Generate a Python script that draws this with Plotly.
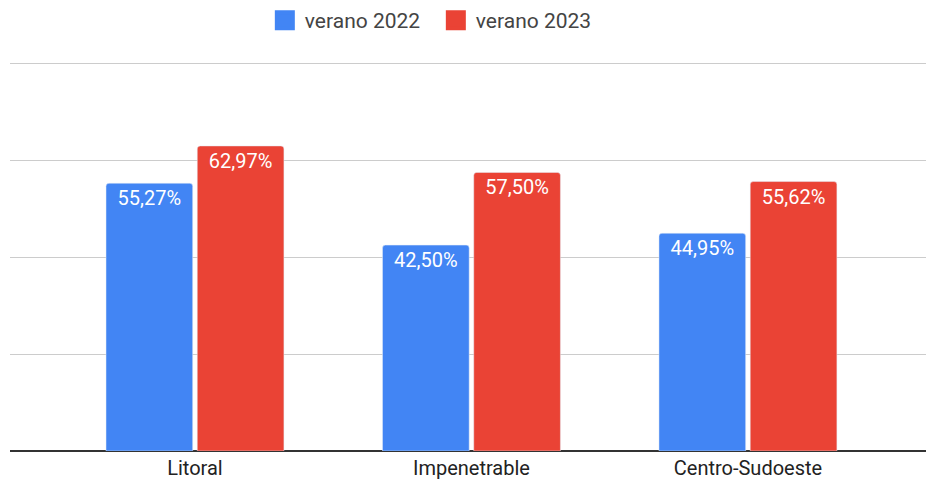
import plotly.graph_objects as go

categories = ["Litoral", "Impenetrable", "Centro-Sudoeste"]
series_names = ["verano 2022", "verano 2023"]
verano_2022 = [55.27, 42.50, 44.95]
verano_2023 = [62.97, 57.50, 55.62]
labels_2022 = ["55,27%", "42,50%", "44,95%"]
labels_2023 = ["62,97%", "57,50%", "55,62%"]
colors = ["#4285F4", "#EA4335"]

fig = go.Figure()
for name, vals, labs, col in zip(series_names, [verano_2022, verano_2023],
                                 [labels_2022, labels_2023], colors):
    fig.add_trace(go.Bar(
        name=name, x=[0, 1, 2], y=vals, text=labs, showlegend=False,
        marker=dict(color=col, cornerradius=3),
        textposition="inside", insidetextanchor="end", textangle=0,
        textfont=dict(color="white", size=20, family="Roboto"),
    ))
# legend entries with large square swatches
for name, col in zip(series_names, colors):
    fig.add_trace(go.Scatter(
        name=name, x=[None], y=[None], mode="markers",
        marker=dict(symbol="square", size=16, color=col,
                    line=dict(color=col, width=4)),
    ))

fig.update_layout(
    width=926, height=482,
    margin=dict(l=10, r=0, t=62, b=31),
    plot_bgcolor="white", paper_bgcolor="white",
    barmode="group", bargap=0.34, bargroupgap=0.05,
    font=dict(family="Roboto", color="#222222"),
    legend=dict(orientation="h", x=0.2782, xanchor="left", y=1.0, yanchor="top",
                yref="container", font=dict(size=21, color="#444444"),
                itemwidth=30, traceorder="normal",
                entrywidth=126, entrywidthmode="pixels"),
    showlegend=True,
)
fig.update_xaxes(
    tickmode="array", tickvals=[0, 1, 2], ticktext=categories,
    range=[-0.669, 2.644], showgrid=False, showline=False, zeroline=False,
    tickfont=dict(size=20, color="#222222", family="Roboto"), ticks="",
    ticklabelstandoff=3,
)
fig.update_yaxes(
    range=[0, 80.3], tickvals=[0, 20, 40, 60, 80], showgrid=True,
    gridcolor="#cccccc", gridwidth=1,
    showticklabels=False, zeroline=True, zerolinecolor="#333333", zerolinewidth=2,
    showline=False,
)
fig.write_html("out.html", config={"displayModeBar": False},
               post_script="document.body.style.margin='0';")
